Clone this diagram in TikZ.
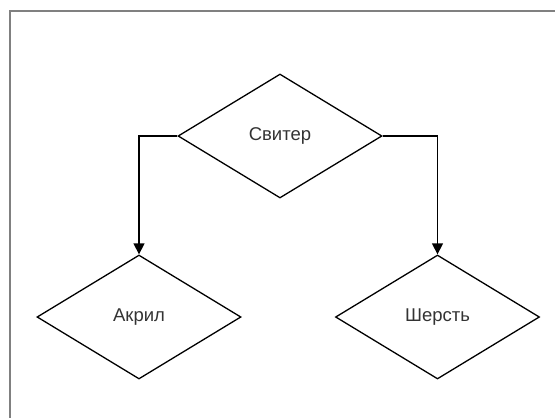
\documentclass[tikz,border=0pt]{standalone}
\usepackage{fontspec}
\setmainfont{Liberation Sans}
\usetikzlibrary{shapes.geometric,arrows.meta}
\definecolor{framegray}{HTML}{808080}
\definecolor{txtgray}{HTML}{333333}
\tikzset{
  rhomb/.style={diamond, draw=black, line width=1.3pt, minimum width=204pt, minimum height=124pt, inner sep=0pt,
    text=txtgray, font=\fontsize{18.5}{22}\selectfont},
  conn/.style={draw=black, line width=1.3pt, -{Triangle[length=11pt,width=11pt]}},
  frame/.style={draw=framegray, line width=1.6pt}
}
\begin{document}
\begin{tikzpicture}[x=1pt,y=-1pt]
\clip (0,0) rectangle (555,418);
\fill[white] (0,0) rectangle (555,418);
\draw[frame] (10,11) rectangle (580,440);
\node[rhomb] (sv) at (280,136) {Свитер};
\node[rhomb] (ak) at (139,317) {Акрил};
\node[rhomb] (sh) at (437.5,317) {Шерсть};
\draw[conn] (sv.west) -| (ak.north);
\draw[conn] (sv.east) -| (sh.north);
\end{tikzpicture}
\end{document}
